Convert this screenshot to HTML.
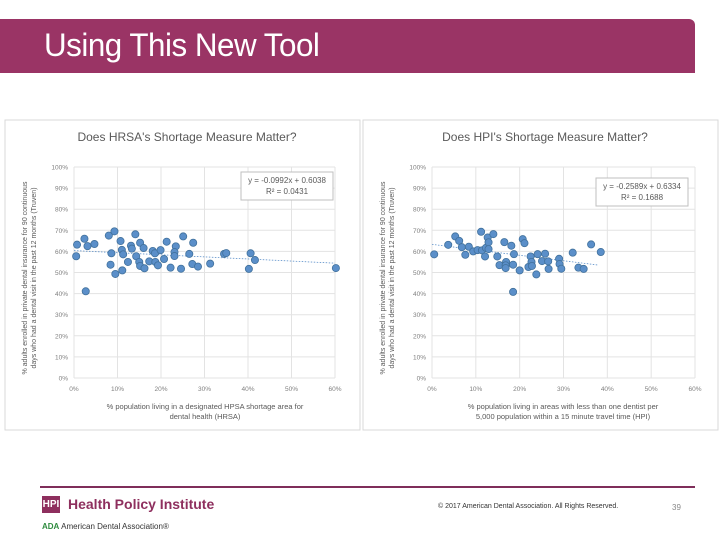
<!DOCTYPE html>
<html><head><meta charset="utf-8"><style>
body{margin:0;width:720px;height:540px;background:#fff;font-family:"Liberation Sans",sans-serif;overflow:hidden;position:relative}
</style></head><body>
<div style="position:absolute;left:0;top:19px;width:695px;height:54px;background:#9A3465;border-top-right-radius:6px"></div>
<div style="position:absolute;left:44px;top:27px;color:#fff;font-size:32px;letter-spacing:-0.5px;transform:scaleX(0.98);transform-origin:left">Using This New Tool</div>
<svg id="s" width="720" height="540" style="position:absolute;left:0;top:0" font-family="Liberation Sans, sans-serif"></svg>
<div style="position:absolute;left:40px;top:486px;width:655px;height:2px;background:#7F2E5A"></div>
<div style="position:absolute;left:42px;top:496px;width:18px;height:17px;background:#8E2F5E;color:#fff;font-size:10px;font-weight:bold;text-align:center;line-height:17px">HPI</div>
<div style="position:absolute;left:68px;top:496px;color:#8E2F5E;font-size:14px;font-weight:bold">Health Policy Institute</div>
<div style="position:absolute;left:42px;top:522px;font-size:8px;color:#333"><b style="color:#2E8B3E">ADA</b> American Dental Association®</div>
<div style="position:absolute;left:438px;top:503px;font-size:7px;color:#333">© 2017 American Dental Association. All Rights Reserved.</div>
<div style="position:absolute;left:672px;top:503px;font-size:8px;color:#888">39</div>
<script>
const leftX=[0.5,0.7,2.4,3.1,4.7,2.7,8.0,9.3,8.6,8.4,9.5,10.7,11.0,11.3,11.1,12.4,13.1,13.3,14.1,14.3,15.2,15.0,15.2,16.0,16.2,17.3,18.1,18.6,18.7,19.3,19.9,20.7,21.3,22.2,23.4,23.1,23.1,24.6,25.1,26.5,27.2,27.4,28.5,31.3,34.5,35.0,40.2,40.6,41.6,60.2];
const leftY=[57.7,63.2,66.0,62.5,63.5,41.1,67.5,69.5,59.1,53.7,49.3,64.9,60.7,58.6,51.0,55.0,62.7,61.3,68.1,57.7,64.1,55.0,53.1,61.6,52.0,55.3,60.2,59.1,55.0,53.4,60.6,56.4,64.6,52.3,62.4,59.7,57.8,51.8,67.1,58.8,54.0,64.1,52.8,54.2,58.8,59.2,51.7,59.1,55.9,52.1];
const rightX=[0.5,3.7,5.3,6.2,6.8,7.6,8.4,9.4,10.4,11.2,11.4,12.1,12.3,12.7,12.9,12.9,14.0,14.9,15.4,16.5,16.9,16.8,16.8,18.1,18.5,18.7,18.5,20.0,20.7,21.1,22.0,22.5,22.7,22.8,23.8,24.1,25.1,25.8,26.5,26.6,29.0,29.1,29.5,32.1,33.4,34.6,36.3,38.5];
const rightY=[58.6,63.1,67.1,65.0,62.0,58.4,62.2,60.0,60.6,69.3,60.5,57.6,61.7,66.6,64.3,61.1,68.2,57.6,53.5,64.4,55.0,53.4,52.1,62.7,53.7,58.7,40.8,51.0,65.8,63.9,52.6,57.6,55.0,53.1,49.1,58.7,55.4,58.9,55.3,51.7,56.5,54.0,51.8,59.4,52.3,51.7,63.3,59.7];
const yTicks=["0%","10%","20%","30%","40%","50%","60%","70%","80%","90%","100%"];
const xTicks=["0%","10%","20%","30%","40%","50%","60%"];
const svg=document.getElementById('s');const NS="http://www.w3.org/2000/svg";
function mk(t,a,p){const e=document.createElementNS(NS,t);for(const k in a)e.setAttribute(k,a[k]);(p||svg).appendChild(e);return e;}
function chart(o){
 const g=mk('g',{});
 
 
 const p=mk('rect',{x:o.px,y:120,width:355,height:310,fill:'#fff',stroke:'#D9D9D9'},g);
 
 
 const sx=v=>o.x0+(o.x1-o.x0)*v/60, sy=v=>378-(378-167)*v/100;
 yTicks.forEach((t,i)=>{const y=sy(i*10);
  const l=mk('line',{x1:o.x0,x2:o.x1,y1:y,y2:y,stroke:'#E3E3E3'},g);
  
  
  const tx=mk('text',{x:o.x0-6,y:y+2.5,'font-size':6.5,fill:'#7F7F7F','text-anchor':'end'},g);tx.textContent=t;
  
  });
 xTicks.forEach((t,i)=>{const x=sx(i*10);
  const l=mk('line',{x1:x,x2:x,y1:167,y2:378,stroke:'#E3E3E3'},g);
  
  
  const tx=mk('text',{x:x,y:391,'font-size':6.5,fill:'#7F7F7F','text-anchor':'middle'},g);tx.textContent=t;
  
  });
 const tt=mk('text',{x:o.px+182,y:141,'font-size':12,fill:'#595959','text-anchor':'middle'},g);tt.textContent=o.title;
 
 
 o.xl.forEach((s,i)=>{const t=mk('text',{x:o.px+200,y:409+i*10,'font-size':7.5,fill:'#595959','text-anchor':'middle'},g);t.textContent=s;
  
  });
 o.yl.forEach((s,i)=>{const x=o.px+22+i*9;const t=mk('text',{x:0,y:0,'font-size':7,fill:'#595959','text-anchor':'middle',transform:`translate(${x},278) rotate(-90)`},g);t.textContent=s;
  
  });
 const tl=mk('line',{x1:sx(0),y1:sy(o.b*100),x2:sx(o.tend),y2:sy((o.m*o.tend/100+o.b)*100),stroke:'#5B8FC9','stroke-dasharray':'1.5,1.5','stroke-width':0.8},g);
 
 
 o.xs.forEach((v,i)=>{const c=mk('circle',{cx:sx(v),cy:sy(o.ys[i]),r:3.6,fill:'#5B8FC9',stroke:'#41719C','stroke-width':0.8},g);
  
  });
 const bx=mk('rect',{x:o.bx,y:o.by,width:92,height:28,fill:'#fff',stroke:'#BFBFBF'},g);
 
 
 o.eq.forEach((s,i)=>{const t=mk('text',{x:o.bx+46,y:o.by+11+i*11,'font-size':8,fill:'#595959','text-anchor':'middle'},g);t.textContent=s;
  
  });
}
chart({name:'hrsa-chart',px:5,x0:74,x1:335,title:"Does HRSA's Shortage Measure Matter?",xs:leftX,ys:leftY,m:-0.0992,b:0.6038,tend:60,bx:241,by:172,eq:["y = -0.0992x + 0.6038","R² = 0.0431"],xl:["% population living in a designated HPSA shortage area for","dental health (HRSA)"],yl:["% adults enrolled in private dental insurance for 90 continuous","days who had a dental visit in the past 12 months (Truven)"]});
chart({name:'hpi-chart',px:363,x0:432,x1:695,title:"Does HPI's Shortage Measure Matter?",xs:rightX,ys:rightY,m:-0.2589,b:0.6334,tend:38,bx:596,by:178,eq:["y = -0.2589x + 0.6334","R² = 0.1688"],xl:["% population living in areas with less than one dentist per","5,000 population within a 15 minute travel time (HPI)"],yl:["% adults enrolled in private dental insurance for 90 continuous","days who had a dental visit in the past 12 months (Truven)"]});
</script>
</body></html>
